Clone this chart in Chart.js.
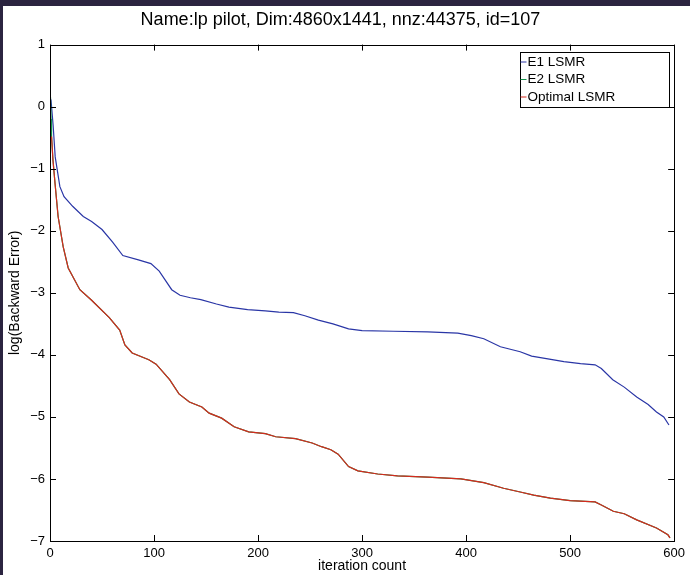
<!DOCTYPE html>
<html>
<head>
<meta charset="utf-8">
<script src="https://cdn.jsdelivr.net/npm/chart.js@4"></script>
<style>
  html, body { margin: 0; padding: 0; background: #2b2440; }
  #wrap { position: absolute; left: 3px; top: 6px; width: 687px; height: 569px; background: #fff; }
</style>
</head>
<body>
<div id="wrap"><canvas id="graphique" width="687" height="569"></canvas></div>
<script>
// values
const e1Iter = [0, 1, 3, 5, 9.5, 13.5, 22, 32, 40, 50, 60, 70, 85, 97, 105, 117, 125, 135, 145, 160, 172, 190, 207, 220, 234, 245, 258, 272, 287, 300, 330, 363, 392, 405, 417, 433, 452, 463, 480, 494, 510, 524, 530, 541, 552, 564, 575, 583, 590, 595];
const e1Err = [0.15, 0.1, -0.3, -0.81, -1.29, -1.45, -1.61, -1.77, -1.85, -1.98, -2.18, -2.4, -2.47, -2.53, -2.65, -2.95, -3.04, -3.08, -3.11, -3.18, -3.23, -3.27, -3.29, -3.31, -3.32, -3.37, -3.44, -3.5, -3.58, -3.61, -3.62, -3.63, -3.65, -3.69, -3.74, -3.87, -3.95, -4.02, -4.07, -4.11, -4.14, -4.16, -4.22, -4.4, -4.52, -4.68, -4.8, -4.92, -5.0, -5.13];

const e2Iter = [0, 0.5, 1, 1.5, 2.8, 4.8, 7.8, 12.7, 17.5, 28.7, 40, 57, 67, 72, 79, 95, 102, 115, 124, 134, 146, 153, 165, 177, 191, 207, 217, 236, 252, 261, 270, 277, 287, 296, 315, 334, 363, 395, 417, 436, 452, 465, 481, 500, 524, 530, 541.5, 552, 564, 583, 594, 596];
const e2Err = [0.15, 0.1, -0.2, -0.48, -0.85, -1.23, -1.77, -2.26, -2.6, -2.95, -3.12, -3.4, -3.6, -3.84, -3.97, -4.08, -4.15, -4.4, -4.63, -4.76, -4.84, -4.94, -5.02, -5.16, -5.24, -5.27, -5.32, -5.35, -5.42, -5.48, -5.53, -5.6, -5.8, -5.87, -5.92, -5.95, -5.97, -6.0, -6.06, -6.15, -6.21, -6.26, -6.31, -6.35, -6.37, -6.42, -6.52, -6.56, -6.66, -6.79, -6.9, -6.95];

const optIter = [1.5, 2.8, 4.8, 7.8, 12.7, 17.5, 28.7, 40, 57, 67, 72, 79, 95, 102, 115, 124, 134, 146, 153, 165, 177, 191, 207, 217, 236, 252, 261, 270, 277, 287, 296, 315, 334, 363, 395, 417, 436, 452, 465, 481, 500, 524, 530, 541.5, 552, 564, 583, 594, 596];
const optErr = [-0.48, -0.85, -1.23, -1.77, -2.26, -2.6, -2.95, -3.12, -3.4, -3.6, -3.84, -3.97, -4.08, -4.15, -4.4, -4.63, -4.76, -4.84, -4.94, -5.02, -5.16, -5.24, -5.27, -5.32, -5.35, -5.42, -5.48, -5.53, -5.6, -5.8, -5.87, -5.92, -5.95, -5.97, -6.0, -6.06, -6.15, -6.21, -6.26, -6.31, -6.35, -6.37, -6.42, -6.52, -6.56, -6.66, -6.79, -6.9, -6.95];

const xTicks = [0, 100, 200, 300, 400, 500, 600];
const yTicks = [-7, -6, -5, -4, -3, -2, -1, 0, 1];

const FONT = '"Liberation Sans", Arial, sans-serif';

function pts(xs, ys) {
    return xs.map((x, i) => ({ x: x, y: ys[i] }));
}

// box around the axes with matlab style inward ticks
const boxPlugin = {
    id: 'boite',
    afterDatasetsDraw(chart) {
        const ctx = chart.ctx;
        const a = chart.chartArea;
        const sx = chart.scales.x, sy = chart.scales.y;
        ctx.save();
        ctx.strokeStyle = '#000';
        ctx.lineWidth = 1;
        ctx.strokeRect(Math.round(a.left) + 0.5, Math.round(a.top) + 0.5, Math.round(a.right - a.left), Math.round(a.bottom - a.top));
        ctx.beginPath();
        xTicks.forEach(v => {
            const px = Math.round(sx.getPixelForValue(v)) + 0.5;
            ctx.moveTo(px, a.bottom); ctx.lineTo(px, a.bottom - 6);
            ctx.moveTo(px, a.top); ctx.lineTo(px, a.top + 6);
        });
        yTicks.forEach(v => {
            const py = Math.round(sy.getPixelForValue(v)) + 0.5;
            ctx.moveTo(a.left, py); ctx.lineTo(a.left + 6, py);
            ctx.moveTo(a.right, py); ctx.lineTo(a.right - 6, py);
        });
        ctx.stroke();

        // legend box
        const w = 149, h = 55;
        const lx = Math.round(a.right - 5 - w) + 0.5, ly = Math.round(a.top + 7) + 0.5;
        ctx.fillStyle = '#fff';
        ctx.fillRect(lx, ly, w, h);
        ctx.strokeRect(lx, ly, w, h);
        ctx.font = '13.5px ' + FONT;
        ctx.textBaseline = 'middle';
        chart.data.datasets.forEach((ds, i) => {
            const cy = ly + 9.5 + i * 17.5;
            ctx.strokeStyle = ds.borderColor;
            ctx.beginPath();
            ctx.moveTo(lx, cy); ctx.lineTo(lx + 6, cy);
            ctx.stroke();
            ctx.fillStyle = '#000';
            ctx.fillText(ds.label, lx + 7, cy);
        });
        ctx.restore();
    }
};

const ctx = document.getElementById('graphique').getContext('2d');
let graphique = new Chart(ctx, {
    type: 'line',
    data: {
        datasets: [{
            label: 'E1 LSMR',
            data: pts(e1Iter, e1Err),
            borderColor: '#2a36a6',
            borderWidth: 1.2,
            order: 3
        }, {
            label: 'E2 LSMR',
            data: pts(e2Iter, e2Err),
            borderColor: '#12924a',
            borderWidth: 1.2,
            order: 2
        }, {
            label: 'Optimal LSMR',
            data: pts(optIter, optErr),
            borderColor: '#d62a1e',
            borderWidth: 1.2,
            order: 1
        }]
    },
    options: {
        responsive: false,
        animation: false,
        elements: { point: { radius: 0 }, line: { tension: 0 } },
        layout: { padding: { right: 12 } },
        scales: {
            x: {
                type: 'linear',
                min: 0, max: 600,
                grid: { display: false, drawTicks: false },
                border: { display: false },
                afterBuildTicks: s => { s.ticks = xTicks.map(v => ({ value: v })); },
                afterFit: s => { s.height = 34; },
                ticks: { color: '#000', padding: 5, font: { family: FONT, size: 13 }, maxRotation: 0 },
                title: { display: true, text: 'iteration count', color: '#000', padding: { top: 0, bottom: 0 }, font: { family: FONT, size: 14 } }
            },
            y: {
                min: -7, max: 1,
                grid: { display: false, drawTicks: false },
                border: { display: false },
                afterBuildTicks: s => { s.ticks = yTicks.map(v => ({ value: v })); },
                afterFit: s => { s.width = 47; },
                ticks: {
                    color: '#000', padding: 5, font: { family: FONT, size: 13 },
                    callback: v => String(v).replace('-', '\u2212')
                },
                title: { display: true, text: 'log(Backward Error)', color: '#000', padding: { top: 4, bottom: 0 }, font: { family: FONT, size: 14 } }
            }
        },
        plugins: {
            legend: { display: false },
            tooltip: { enabled: false },
            title: {
                display: true,
                text: 'Name:lp pilot, Dim:4860x1441, nnz:44375, id=107',
                color: '#000',
                font: { family: FONT, size: 18, weight: 'normal' },
                padding: { top: 3, bottom: 14 }
            }
        }
    },
    plugins: [boxPlugin]
});
</script>
</body>
</html>
